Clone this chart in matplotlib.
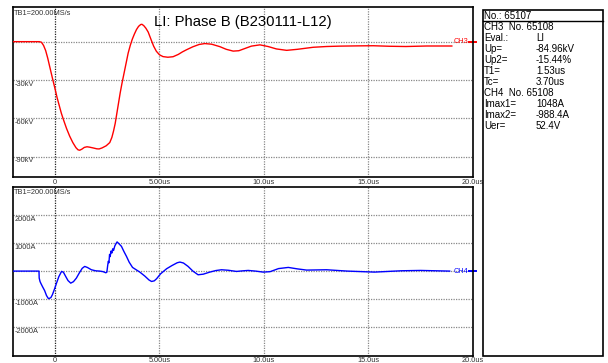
import matplotlib.pyplot as plt
from matplotlib.patches import Rectangle

plt.rcParams['font.family'] = ['Liberation Sans', 'DejaVu Sans']

title = 'LI: Phase B (B230111-L12)'
sample_rate = 'TB1=200.00MS/s'

# CH3 voltage trace (us, kV)
t_ch3 = [-2.0, -0.75, -0.65, -0.55, -0.45, -0.35, -0.25, -0.12, 0.0, 0.1, 0.2, 0.3, 0.4,
         0.55, 0.7, 0.85, 1.0, 1.1, 1.18, 1.28, 1.4, 1.53, 1.65, 1.82, 2.0, 2.11, 2.25,
         2.45, 2.62, 2.72, 2.8, 2.88, 2.96, 3.04, 3.12, 3.2, 3.3, 3.4, 3.5, 3.6, 3.7, 3.8,
         3.9, 4.0, 4.1, 4.16, 4.25, 4.35, 4.46, 4.6, 4.72, 4.85, 5.0, 5.17, 5.4, 5.65, 5.9,
         6.1, 6.3, 6.6, 6.9, 7.17, 7.5, 7.89, 8.2, 8.53, 8.8, 9.1, 9.4, 9.81, 10.2, 10.6,
         11.09, 11.6, 12.36, 13.0, 13.64, 14.5, 15.24, 16.0, 16.8, 17.8, 19.0]
u_ch3 = [0, 0, -0.5, -3, -7, -13, -20, -29, -37, -44, -50, -56, -61,
         -68, -74, -79, -83, -84.7, -85.0, -84.2, -82.8, -82.3, -82.6, -83.2, -83.9, -84.0, -83.2,
         -81.5, -79, -75, -70, -64, -56, -48, -40, -33, -25, -17, -9, -3, 2, 6,
         9.5, 12, 13.4, 13.6, 12.5, 10.5, 7.5, 1.5, -3.5, -7.5, -10.3, -11.7, -12.2, -11.8, -10,
         -8, -6.3, -4, -2.2, -1.5, -2, -3.9, -6, -7.4, -7.1, -5.3, -3.5, -2.5, -3.8, -5.7,
         -6.8, -6, -4.4, -3.8, -3.5, -3.3, -3.2, -3.6, -3.8, -3.4, -3.4]

# CH4 current trace (us, A)
t_ch4 = [-2.0, -0.77, -0.76, -0.72, -0.68, -0.6, -0.5, -0.41, -0.33, -0.29, -0.2, -0.13,
         -0.03, 0.07, 0.18, 0.31, 0.4, 0.5, 0.62, 0.75, 0.88, 1.02, 1.15, 1.3, 1.42, 1.55,
         1.74, 1.95, 2.14, 2.3, 2.43, 2.48, 2.52, 2.55, 2.58, 2.61, 2.64, 2.68, 2.72, 2.76,
         2.8, 2.86, 2.92, 2.97, 3.05, 3.18, 3.3, 3.42, 3.55, 3.71, 3.9, 4.06, 4.3, 4.5, 4.62,
         4.75, 4.86, 5.05, 5.34, 5.6, 5.85, 5.98, 6.15, 6.37, 6.6, 6.85, 7.1, 7.41, 7.7, 7.97,
         8.3, 8.69, 9.0, 9.25, 9.6, 9.97, 10.3, 10.7, 11.17, 11.6, 12.05, 13.0, 14.0, 15.3,
         16.0, 16.6, 17.5, 18.9]
i_ch4 = [0, 0, -250, -374, -440, -560, -700, -877, -975, -988, -950, -853,
         -650, -432, -200, -12, -40, -180, -340, -432, -380, -252, -80, 100, 168, 130,
         48, 10, 0, -20, -60, -40, 200, 350, 300, 600, 520, 720, 650, 800,
         740, 900, 990, 1048, 990, 888, 700, 528, 320, 132, 40, -36, -180, -320, -372,
         -350, -276, -100, 84, 200, 300, 324, 290, 168, 0, -132, -110, -36, 20, 48,
         30, -12, 10, 24, 0, -36, -20, 90, 132, 80, 36, 48, 0, -36,
         -10, 12, 24, 0]

x_ticks = [0, 5, 10, 15, 20]
x_labels = ['0', '5.00us', '10.0us', '15.0us', '20.0us']
ch3_grid = [-30, -60, -90]
ch3_labels = ['-30kV', '-60kV', '-90kV']
ch4_grid = [2000, 1000, -1000, -2000]
ch4_labels = ['2000A', '1000A', '-1000A', '-2000A']

info_header = 'No.: 65107'
info_rows = [('CH3  No. 65108', ''), ('Eval.:', 'LI'), ('Up=', '-84.96kV'),
             ('Up2=', '-15.44%'), ('T1=', '1.53us'), ('Tc=', '3.70us'),
             ('CH4  No. 65108', ''), ('Imax1=', '1048A'), ('Imax2=', '-988.4A'),
             ('Uer=', '52.4V')]

W, H = 608, 363
fig = plt.figure(figsize=(W / 100, H / 100), dpi=100)


def px_axes(x0, y0, x1, y1):
    return fig.add_axes([x0 / W, 1 - y1 / H, (x1 - x0) / W, (y1 - y0) / H])


def scope_panel(ax, t, y, color, ylim, grid, labels, ch, yoff):
    ax.set_xlim(-2, 20)
    ax.set_ylim(*ylim)
    ax.set_xticks([])
    ax.set_yticks([])
    for s in ax.spines.values():
        s.set_linewidth(1.2)
    for xv in x_ticks[1:-1]:
        ax.axvline(xv, color='#888888', lw=0.9, ls=(0, (1, 1)), zorder=1)
    ax.axvline(0, color='#222222', lw=0.9, ls=(0, (1, 1)), zorder=1)
    for yv in grid + [0]:
        ax.axhline(yv, color='#888888', lw=0.9, ls=(0, (1, 1)), zorder=1)
    for yv, lab in zip(grid, labels):
        ax.text(-1.95, yv - yoff, lab, fontsize=5.3, color='#333333',
                ha='left', va='center')
    ax.text(-1.95, ylim[1] - 0.035 * (ylim[1] - ylim[0]), sample_rate, fontsize=5.3,
            color='#333333', ha='left', va='center')
    ax.plot(t, y, color=color, lw=1.0, zorder=3)
    ax.text(19.1, 0, ch, fontsize=5.3, color=color, ha='left', va='center')
    tr = ax.get_yaxis_transform()
    ax.plot([0.993, 1.007], [0, 0], color=color, lw=1.4, transform=tr, clip_on=False)
    for xv, lab in zip(x_ticks, x_labels):
        ax.text(xv, -0.03, lab, fontsize=5.3, color='#333333', ha='center', va='center',
                transform=ax.get_xaxis_transform(), clip_on=False)


ax1 = px_axes(13.3, 7.3, 472.7, 177.3)
scope_panel(ax1, t_ch3, u_ch3, '#ff0000', (-106.2, 26.9), ch3_grid, ch3_labels, 'CH3', 3.2)
fig.text(243 / W, 1 - 21.7 / H, title, fontsize=10.7, ha='center', va='center')

ax2 = px_axes(13.3, 186.7, 472.7, 355.5)
scope_panel(ax2, t_ch4, i_ch4, '#0000ff', (-3030, 3030), ch4_grid, ch4_labels, 'CH4', 160)

# measurement box on the right
fig.patches.append(Rectangle((482.7 / W, 1 - 355.7 / H), (603 - 482.7) / W, (355.7 - 10) / H,
                             transform=fig.transFigure, fill=False, lw=1.2, ec='black'))
fig.add_artist(plt.Line2D([482.7 / W, 603 / W], [1 - 20.7 / H, 1 - 20.7 / H],
                          transform=fig.transFigure, color='black', lw=1.0))
fig.text(484 / W, 1 - 16 / H, info_header, fontsize=7, ha='left', va='center')
for k, (lab, val) in enumerate(info_rows):
    y = 1 - (26.5 + 11.1 * k) / H
    fig.text(484 / W, y, lab, fontsize=7, ha='left', va='center')
    if val:
        fig.text(536 / W, y, val, fontsize=7, ha='left', va='center')

fig.savefig('out.png', dpi=100)
